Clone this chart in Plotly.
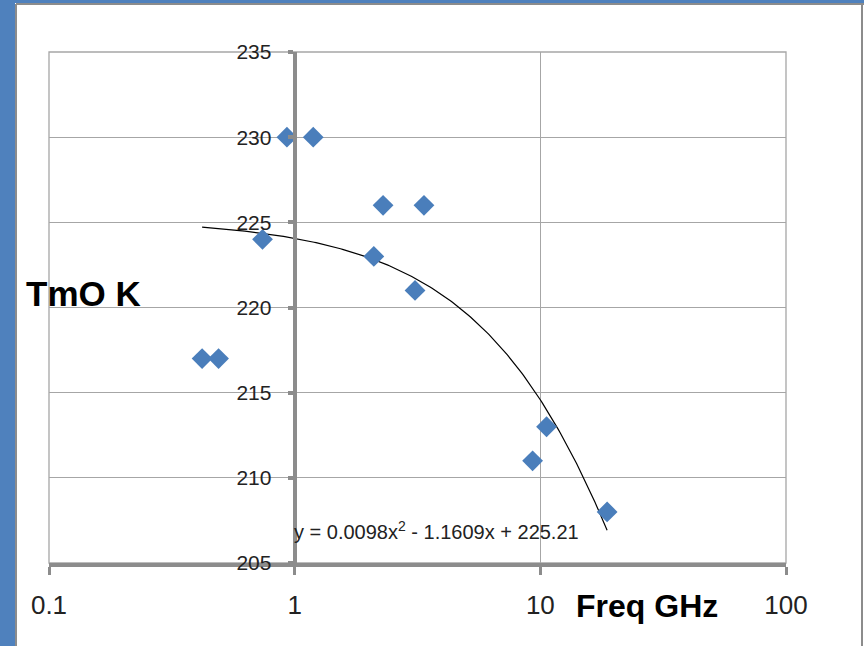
import numpy as np
import plotly.graph_objects as go

# ---- data ----
freq_ghz = [0.42, 0.49, 0.74, 0.93, 1.19, 2.10, 2.29, 3.09, 3.36, 9.3, 10.6, 18.7]
tmo_k = [217, 217, 224, 230, 230, 223, 226, 221, 226, 211, 213, 208]
trend_coef = [0.0098, -1.1609, 225.21]  # y = a x^2 + b x + c
x_ticks = [0.1, 1, 10, 100]
x_ticklabels = ["0.1", "1", "10", "100"]
y_ticks = [205, 210, 215, 220, 225, 230, 235]

W, H = 864, 646
L, R, T, B = 49, 786, 52, 563
pw, ph = R - L, B - T

def px(xp):
    return (xp - L) / pw

def py(yp):
    return (B - yp) / ph

xt = np.logspace(np.log10(min(freq_ghz)), np.log10(max(freq_ghz)), 200)
yt = trend_coef[0] * xt**2 + trend_coef[1] * xt + trend_coef[2]

fig = go.Figure()
fig.add_trace(go.Scatter(x=xt, y=yt, mode="lines",
                         line=dict(color="black", width=1.2), hoverinfo="skip"))
fig.add_trace(go.Scatter(x=freq_ghz, y=tmo_k, mode="markers",
                         marker=dict(symbol="diamond", size=16, color="#4a7ebb")))

grid = "#a6a6a6"
axis = "#8c8c8c"
font = "Liberation Sans, Arial"

fig.update_layout(
    width=W, height=H,
    margin=dict(l=L, r=W - R, t=T, b=H - B),
    paper_bgcolor="white", plot_bgcolor="white",
    showlegend=False,
    xaxis=dict(type="log", range=[-1, 2], tickvals=x_ticks, ticktext=x_ticklabels,
               showgrid=True, gridcolor=grid, gridwidth=1.3,
               showline=True, linecolor=axis, linewidth=4,
               ticks="outside", ticklen=8, tickwidth=3, tickcolor=axis,
               ticklabelstandoff=8,
               tickfont=dict(family=font, size=26, color="#222"),
               zeroline=False),
    yaxis=dict(range=[205, 235], tickvals=y_ticks,
               anchor="free", position=1/3,
               showgrid=True, gridcolor=grid, gridwidth=1.3,
               showline=True, linecolor=axis, linewidth=4,
               ticks="outside", ticklen=5, tickwidth=4, tickcolor=axis,
               ticklabelstandoff=12,
               tickfont=dict(family=font, size=21, color="#222"),
               zeroline=False),
    shapes=[
        dict(type="rect", xref="paper", yref="paper", x0=0, x1=1, y0=0, y1=1,
             line=dict(color=grid, width=1.3), layer="below"),
        # outer frame
        dict(type="rect", xref="paper", yref="paper", x0=px(0), x1=px(15), y0=py(0), y1=py(H),
             fillcolor="#4f81bd", line=dict(width=0)),
        dict(type="rect", xref="paper", yref="paper", x0=px(0), x1=px(W), y0=py(0), y1=py(3),
             fillcolor="#4f81bd", line=dict(width=0)),
        dict(type="line", xref="paper", yref="paper", x0=px(16), x1=px(16), y0=py(4), y1=py(H),
             line=dict(color="#8c8c8c", width=2)),
        dict(type="line", xref="paper", yref="paper", x0=px(16), x1=px(W), y0=py(4), y1=py(4),
             line=dict(color="#8c8c8c", width=2)),
        dict(type="line", xref="paper", yref="paper", x0=px(862), x1=px(862), y0=py(4), y1=py(H),
             line=dict(color="#8c8c8c", width=2)),
    ],
    annotations=[
        dict(text="<b>TmO K</b>", xref="paper", yref="paper", x=px(24), y=py(293),
             xanchor="left", yanchor="middle", showarrow=False,
             font=dict(family=font, size=35, color="black")),
        dict(text="<b>Freq GHz</b>", xref="paper", yref="paper", x=px(647), y=py(606),
             xanchor="center", yanchor="middle", showarrow=False,
             font=dict(family=font, size=32, color="black")),
        dict(text="y = 0.0098x<sup>2</sup> - 1.1609x + 225.21", xref="paper", yref="paper",
             x=px(292), y=py(530), xanchor="left", yanchor="middle", showarrow=False,
             font=dict(family=font, size=20, color="#222")),
    ],
)

fig.write_html("out.html")
